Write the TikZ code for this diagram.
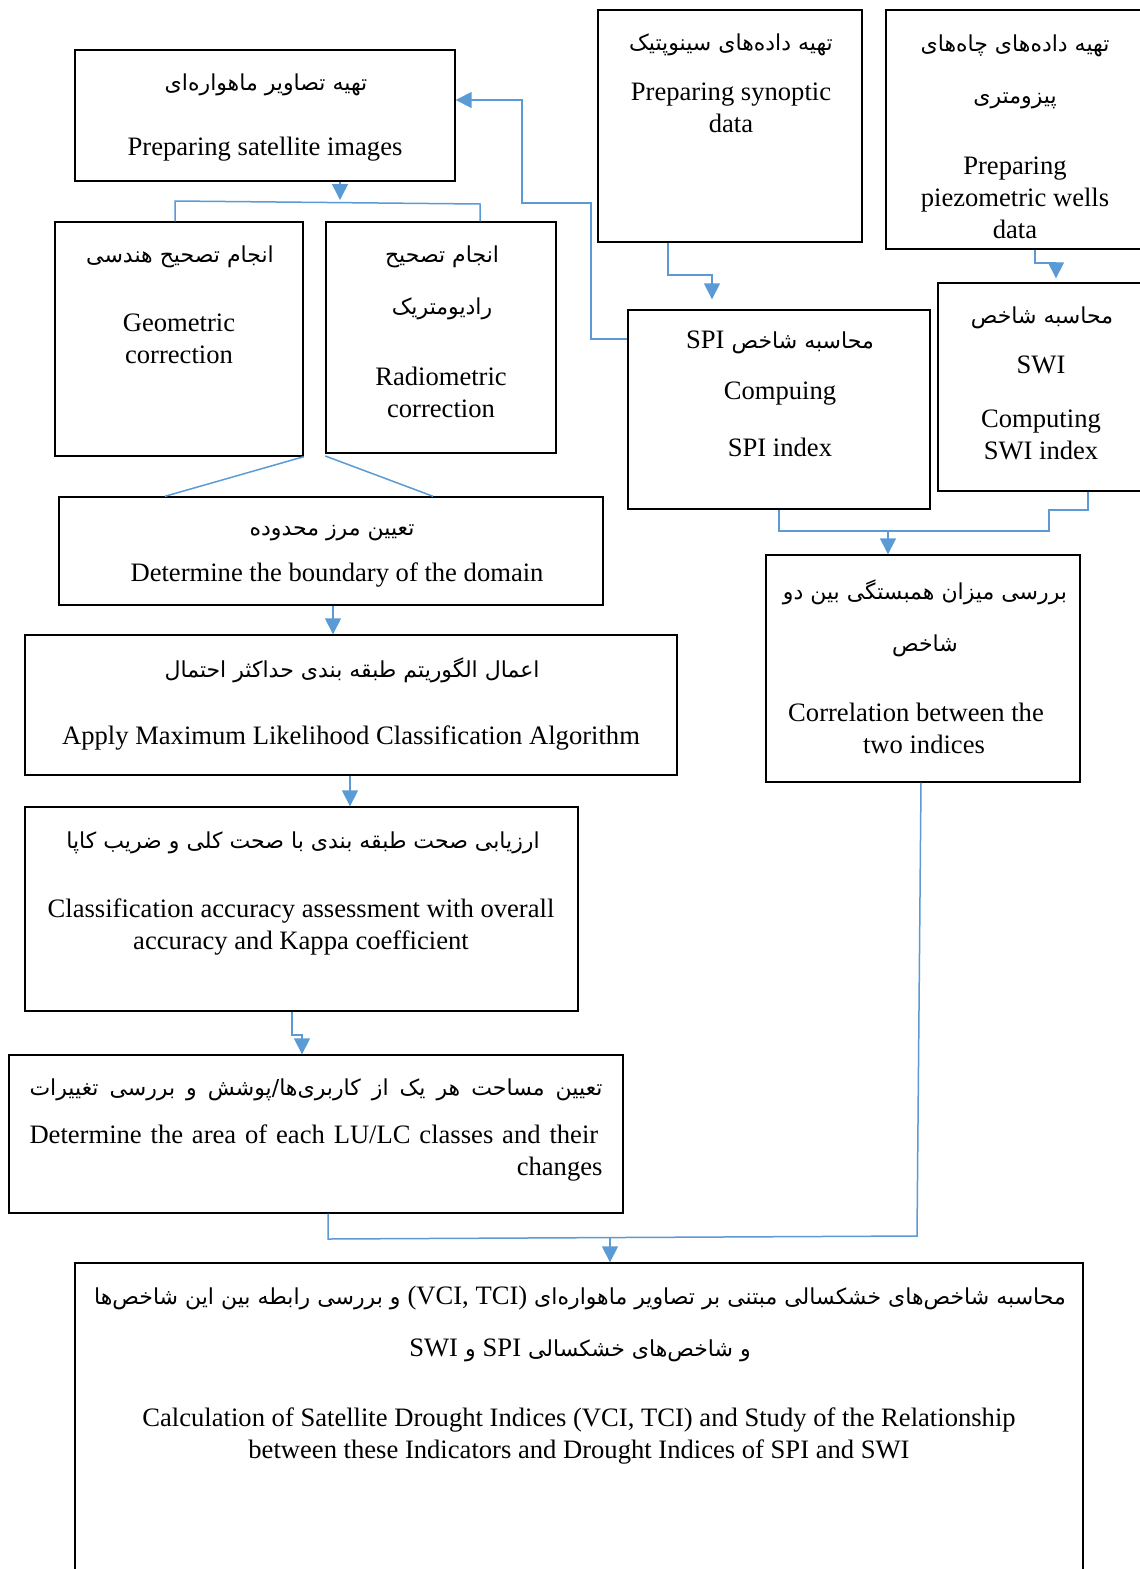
\documentclass[tikz,border=0pt]{standalone}
\usepackage{fontspec}
\setmainfont{Liberation Serif}
\newfontfamily\fa[Script=Arabic]{DejaVu Sans}
\TeXXeTstate=1
\usepackage{tikz}
\usetikzlibrary{arrows.meta, positioning, fit}
\definecolor{flowblue}{HTML}{5B9BD5}
\newcommand{\lat}[1]{{\rmfamily\fontsize{13.3}{16}\selectfont #1}}

\begin{document}
\begin{tikzpicture}[
  x=0.5pt, y=-0.5pt,
  box/.style={draw, line width=0.7pt, inner sep=0pt, fill=white},
  en/.style={align=center, font=\fontsize{13.3}{16}\selectfont, inner sep=0pt, yshift=-1pt},
  fa/.style={align=center, font={\fa\fontsize{11}{26}\selectfont}, inner sep=0pt, yshift=-1pt},
  line/.style={draw=flowblue, line width=0.75pt},
  arrow/.style={line, -{Triangle[length=8pt,width=8pt]}}
]
\useasboundingbox[fill=white] (0,0) rectangle (1140,1569);

% --- Boxes (pixel corners) ---
\node[box, fit={(75,50) (455,181)}]     (sat)   {};
\node[box, fit={(598,10) (862,242)}]    (synop) {};
\node[box, fit={(886,10) (1150,249)}]   (piezo) {};
\node[box, fit={(55,222) (303,456)}]    (geo)   {};
\node[box, fit={(326,222) (556,453)}]   (radio) {};
\node[box, fit={(628,310) (930,509)}]   (spi)   {};
\node[box, fit={(938,283) (1150,491)}]  (swi)   {};
\node[box, fit={(59,497) (603,605)}]    (bound) {};
\node[box, fit={(25,635) (677,775)}]    (mlc)   {};
\node[box, fit={(25,807) (578,1011)}]   (acc)   {};
\node[box, fit={(9,1055) (623,1213)}]   (area)  {};
\node[box, fit={(766,555) (1080,782)}]  (corr)  {};
\node[box, fit={(75,1263) (1083,1620)}] (drought) {};

% --- Texts ---
\node[fa] (satFa) at (266,83)  {\beginR تهیه تصاویر ماهواره‌ای\endR};
\node[en] (satEn) at (265,147) {Preparing satellite images};

\node[fa] (synopFa) at (731,43)  {\beginR تهیه داده‌های سینوپتیک\endR};
\node[en] (synopEn) at (731,106) {Preparing synoptic\\data};

\node[fa] (piezoFa) at (1015,70)  {\beginR تهیه داده‌های چاه‌های\endR\\\beginR پیزومتری\endR};
\node[en] (piezoEn) at (1015,196) {Preparing\\piezometric wells\\data};

\node[fa] (geoFa) at (180,255) {\beginR انجام تصحیح هندسی\endR};
\node[en] (geoEn) at (179,337) {Geometric\\correction};

\node[fa] (radioFa) at (442,281) {\beginR انجام تصحیح\endR\\\beginR رادیومتریک\endR};
\node[en] (radioEn) at (441,390) {Radiometric\\correction};

\node[fa] (spiFa) at (780,340) {\beginR محاسبه شاخص \beginL\lat{SPI}\endL\endR};
\node[en] (spiEn) at (780,417) {Compuing\\[12.5pt]SPI index};

\node[fa] (swiFa) at (1042,316) {\beginR محاسبه شاخص\endR};
\node[en] (swiEn) at (1041,363) {SWI};
\node[en] (swiEn2) at (1041,433) {Computing\\SWI index};

\node[fa] (boundFa) at (332,531) {\beginR تعیین مرز محدوده\endR};
\node[en] (boundEn) at (337,573) {Determine the boundary of the domain};

\node[fa] (mlcFa) at (352,668) {\beginR اعمال الگوریتم طبقه بندی حداکثر احتمال\endR};
\node[en] (mlcEn) at (351,736) {Apply Maximum Likelihood Classification Algorithm};

\node[fa] (accFa) at (303,841) {\beginR ارزیابی صحت طبقه بندی با صحت کلی و ضریب کاپا\endR};
\node[en] (accEn) at (301,925) {Classification accuracy assessment with overall\\accuracy and Kappa coefficient};

% justified lines, as in the source
\node[fa] (areaFa) at (316,1088) {\makebox[286.5pt][s]{\beginR تعیین مساحت هر یک از کاربری‌ها/پوشش و بررسی تغییرات\endR}};
\node[en, text width=286.5pt, align=right] (areaEn) at (316,1151)
  {\makebox[286.5pt][s]{Determine the area of each LU/LC classes and their}\\changes};

\node[fa] (corrFa) at (925,616) {\beginR بررسی میزان همبستگی بین دو\endR\\\beginR شاخص\endR};
\node[en] (corrEn) at (916,726) {Correlation between the\\\hspace*{8pt}two indices};

\node[fa] (droughtFa) at (580,1322)
  {\beginR محاسبه شاخص‌های خشکسالی مبتنی بر تصاویر ماهواره‌ای \beginL\lat{(VCI, TCI)}\endL{} و بررسی رابطه بین این شاخص‌ها\endR\\
   \beginR و شاخص‌های خشکسالی \beginL\lat{SPI}\endL{} و \beginL\lat{SWI}\endL\endR};
\node[en] (droughtEn) at (579,1434)
  {Calculation of Satellite Drought Indices (VCI, TCI) and Study of the Relationship\\between these Indicators and Drought Indices of SPI and SWI};

% --- Satellite branch ---
\coordinate (split) at (340,200);
\draw[arrow] (sat.south -| split) -- (split);
\draw[line] (geo.north -| 175,0) -- (175,201) -- (480,204) -- (radio.north -| 480,0);
\draw[line] (geo.south east) -- (bound.north -| 165,0);
\draw[line] (radio.south west |- 0,456) -- (bound.north -| 433,0);
\draw[arrow] (bound.south -| 333,0) -- (mlc.north -| 333,0);
\draw[arrow] (mlc.south -| 350,0) -- (acc.north -| 350,0);
\draw[arrow] (acc.south -| 292,0) -- (292,1035) -| (area.north -| 302,0);

% --- Station data branch ---
\draw[arrow, shorten >=5pt] (synop.south -| 668,0) -- (668,275) -| (spi.north -| 712,0);
\draw[arrow, shorten >=2pt] (piezo.south -| 1035,0) -- (1035,263) -| (swi.north -| 1056,0);
\draw[arrow] (spi.west |- 0,339) -| (591,203) -| (522,100) -- (sat.east |- 0,100);
\coordinate (join) at (888,531);
\draw[line] (spi.south -| 779,0) -- (779,531) -- (1049,531) -- (1049,510) -- (1088,510) -- (swi.south -| 1088,0);
\draw[arrow] (join) -- (corr.north -| join);

% --- Merge into the final step ---
\coordinate (merge) at (610,1238);
\draw[line] (area.south -| 328,0) -- (328,1239) -- (917,1236) -- (corr.south -| 921,0);
\draw[arrow] (merge) -- (drought.north -| merge);

\end{tikzpicture}
\end{document}
